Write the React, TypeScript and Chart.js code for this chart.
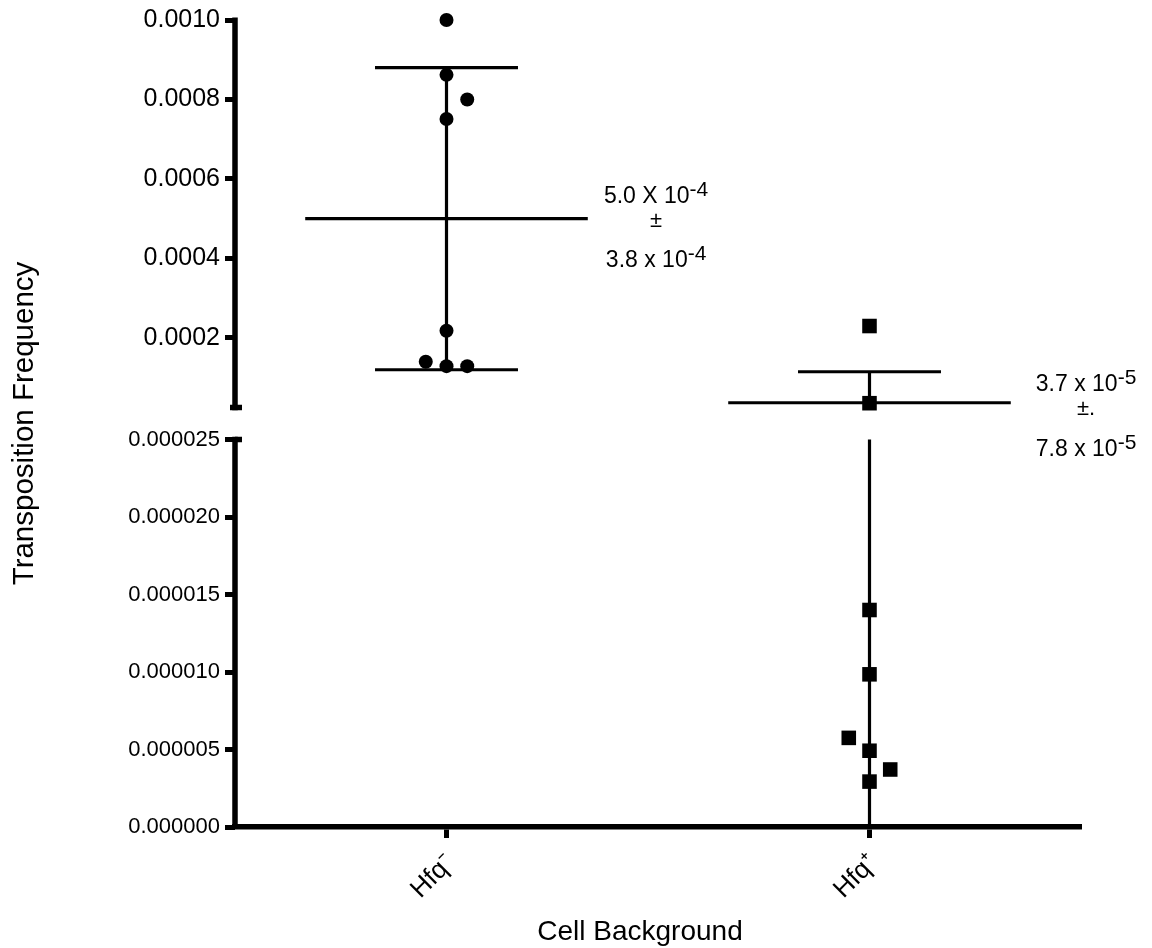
import React, { useEffect, useRef } from "react";
import { Chart, registerables } from "chart.js";

Chart.register(...registerables);

const FONT = "'Liberation Sans', Arial, Helvetica, sans-serif";

// ---------- data ----------
const categories = ["Hfq\u207B", "Hfq\u207A"];
const hfqMinusValues = [0.001, 0.000862, 0.0008, 0.000751, 0.000218, 0.00014, 0.000129, 0.000129];
const hfqMinusJitter = [0, 0, 0.049, 0, 0, -0.049, 0, 0.049];
const hfqPlusValues = [0.00023, 0.0000358, 0.000014, 0.00000985, 0.00000575, 0.00000492, 0.00000371, 0.00000293];
const hfqPlusJitter = [0, 0, 0, 0, -0.049, 0, 0.049, 0];
const groupMeans = [5.0e-4, 3.7e-5];
const groupSDs = [3.8e-4, 7.8e-5];
const meanTexts = [["5.0 X 10", "-4"], ["3.7 x 10", "-5"]];
const pmTexts = ["\u00B1", "\u00B1."];
const sdTexts = [["3.8 x 10", "-4"], ["7.8 x 10", "-5"]];
const topTicks = [0.0002, 0.0004, 0.0006, 0.0008, 0.001];
const bottomTicks = [0, 0.000005, 0.00001, 0.000015, 0.00002, 0.000025];
const AXIS_BREAK = 0.000025;
const TOP_MAX = 0.001;
const BOTTOM_MIN = 0;
const Y_TITLE = "Transposition Frequency";
const X_TITLE = "Cell Background";

// ---------- styling / layout ----------
const GAP_FRAC = 0.0413;
const MEAN_HALF = 0.334;
const CAP_HALF = 0.169;
const AXIS_W = 5.5;
const LINE_W = 3.2;
const ANNOT_DX = [0.4955, 0.512];
const ANNOT_DY = [0, 4.5];

const topMin = AXIS_BREAK - GAP_FRAC * (TOP_MAX - AXIS_BREAK);
const bottomMax = AXIS_BREAK + GAP_FRAC * (AXIS_BREAK - BOTTOM_MIN);

const axisOf = (v: number) => (v >= AXIS_BREAK ? "yTop" : "yBottom");

function splitPoints(values: number[], jitter: number[], cat: number) {
  const top: { x: number; y: number }[] = [];
  const bottom: { x: number; y: number }[] = [];
  values.forEach((v, i) => {
    const p = { x: cat + jitter[i], y: v };
    (v >= AXIS_BREAK ? top : bottom).push(p);
  });
  return { top, bottom };
}

function barSegments(cat: number, mean: number, sd: number) {
  const segs: { axis: string; pts: { x: number; y: number }[] }[] = [];
  segs.push({ axis: axisOf(mean), pts: [{ x: cat - MEAN_HALF, y: mean }, { x: cat + MEAN_HALF, y: mean }] });
  const hi = mean + sd;
  const lo = mean - sd;
  segs.push({ axis: axisOf(hi), pts: [{ x: cat - CAP_HALF, y: hi }, { x: cat + CAP_HALF, y: hi }] });
  if (lo >= BOTTOM_MIN) {
    segs.push({ axis: axisOf(lo), pts: [{ x: cat - CAP_HALF, y: lo }, { x: cat + CAP_HALF, y: lo }] });
  }
  const loC = Math.max(lo, BOTTOM_MIN);
  if (hi > AXIS_BREAK) {
    segs.push({ axis: "yTop", pts: [{ x: cat, y: Math.max(loC, AXIS_BREAK) }, { x: cat, y: hi }] });
  }
  if (loC < AXIS_BREAK) {
    segs.push({ axis: "yBottom", pts: [{ x: cat, y: loC }, { x: cat, y: Math.min(hi, AXIS_BREAK) }] });
  }
  return segs;
}

function buildDatasets() {
  const ds: any[] = [];
  const groups = [
    { values: hfqMinusValues, jitter: hfqMinusJitter, style: "circle", radius: 7 },
    { values: hfqPlusValues, jitter: hfqPlusJitter, style: "rect", radius: 10.3 },
  ];
  groups.forEach((g, gi) => {
    const cat = gi + 1;
    const { top, bottom } = splitPoints(g.values, g.jitter, cat);
    [
      { data: top, axis: "yTop" },
      { data: bottom, axis: "yBottom" },
    ].forEach((s) => {
      if (!s.data.length) return;
      ds.push({
        label: categories[gi],
        data: s.data,
        yAxisID: s.axis,
        xAxisID: "x",
        pointStyle: g.style,
        pointRadius: g.radius,
        pointBackgroundColor: "#000",
        pointBorderColor: "#000",
        pointBorderWidth: 0,
        showLine: false,
        clip: false,
      });
    });
  });
  groupMeans.forEach((m, gi) => {
    barSegments(gi + 1, m, groupSDs[gi]).forEach((seg) => {
      ds.push({
        label: "bar",
        data: seg.pts,
        yAxisID: seg.axis,
        xAxisID: "x",
        showLine: true,
        borderColor: "#000",
        borderWidth: LINE_W,
        borderCapStyle: "butt",
        pointRadius: 0,
        fill: false,
        clip: false,
      });
    });
  });
  return ds;
}

function drawSup(ctx: CanvasRenderingContext2D, main: string, sup: string, cx: number, baseline: number) {
  ctx.font = `23px ${FONT}`;
  const wm = ctx.measureText(main).width;
  ctx.font = `21px ${FONT}`;
  const ws = ctx.measureText(sup).width;
  const start = cx - (wm + ws) / 2;
  ctx.textAlign = "left";
  ctx.textBaseline = "alphabetic";
  ctx.font = `23px ${FONT}`;
  ctx.fillText(main, start, baseline);
  ctx.font = `21px ${FONT}`;
  ctx.fillText(sup, start + wm, baseline - 7);
}

const decorPlugin = {
  id: "decor",
  afterDraw(chart: any) {
    const ctx: CanvasRenderingContext2D = chart.ctx;
    const area = chart.chartArea;
    const yT = chart.scales.yTop;
    const yB = chart.scales.yBottom;
    const xs = chart.scales.x;
    ctx.save();
    ctx.strokeStyle = "#000";
    ctx.fillStyle = "#000";
    ctx.lineCap = "butt";
    ctx.lineWidth = AXIS_W;
    const ax = area.left;
    const line = (x1: number, y1: number, x2: number, y2: number) => {
      ctx.beginPath();
      ctx.moveTo(x1, y1);
      ctx.lineTo(x2, y2);
      ctx.stroke();
    };
    // broken y axis
    const tTop = yT.getPixelForValue(TOP_MAX);
    const tBreak = yT.getPixelForValue(AXIS_BREAK);
    line(ax, tTop - 2.5, ax, tBreak + 2.7);
    line(ax - 5, tBreak, ax + 7, tBreak);
    const bBreak = yB.getPixelForValue(AXIS_BREAK);
    const bZero = yB.getPixelForValue(BOTTOM_MIN);
    line(ax, bBreak - 2.7, ax, bZero);
    line(ax, bBreak, ax + 7, bBreak);

    // annotations
    groupMeans.forEach((m, gi) => {
      const scale = m >= AXIS_BREAK ? yT : yB;
      const cx = xs.getPixelForValue(gi + 1 + ANNOT_DX[gi]);
      const my = scale.getPixelForValue(m) + ANNOT_DY[gi];
      drawSup(ctx, meanTexts[gi][0], meanTexts[gi][1], cx, my - 16);
      ctx.font = `22px ${FONT}`;
      ctx.textAlign = "center";
      ctx.textBaseline = "alphabetic";
      ctx.fillText(pmTexts[gi], cx, my + 8);
      drawSup(ctx, sdTexts[gi][0], sdTexts[gi][1], cx, my + 48.5);
    });

    // axis titles
    ctx.font = `29.5px ${FONT}`;
    ctx.textAlign = "center";
    ctx.textBaseline = "alphabetic";
    ctx.save();
    ctx.translate(33, (area.top + area.bottom) / 2);
    ctx.rotate(-Math.PI / 2);
    ctx.fillText(Y_TITLE, 0, 0);
    ctx.restore();
    ctx.font = `28px ${FONT}`;
    ctx.fillText(X_TITLE, (area.left + area.right) / 2 - 18, 940);
    ctx.restore();
  },
};

export default function App() {
  const ref = useRef<HTMLCanvasElement>(null);
  useEffect(() => {
    if (!ref.current) return;
    Chart.defaults.font.family = FONT;
    const chart = new Chart(ref.current, {
      type: "scatter",
      data: { datasets: buildDatasets() },
      options: {
        responsive: false,
        animation: false,
        events: [],
        layout: { padding: { left: 35, right: 71, top: 20, bottom: 0 } },
        plugins: { legend: { display: false }, tooltip: { enabled: false } },
        scales: {
          x: {
            type: "linear",
            position: "bottom",
            min: 0.5,
            max: 2.5,
            afterBuildTicks: (s: any) => {
              s.ticks = categories.map((_, i) => ({ value: i + 1 }));
            },
            afterFit: (s: any) => {
              s.height = 121;
            },
            ticks: {
              callback: (v: any) => categories[Math.round(Number(v)) - 1] ?? "",
              minRotation: 45,
              maxRotation: 45,
              autoSkip: false,
              font: { family: FONT, size: 26 },
              color: "#000",
              padding: 10,
              labelOffset: 4,
            },
            grid: {
              display: true,
              drawOnChartArea: false,
              drawTicks: true,
              tickLength: 11,
              tickWidth: 5,
              tickColor: "#000",
              color: "#000",
            },
            border: { display: true, color: "#000", width: AXIS_W },
          },
          yTop: {
            type: "linear",
            position: "left",
            stack: "y",
            stackWeight: 1,
            weight: 1,
            min: topMin,
            max: TOP_MAX,
            afterBuildTicks: (s: any) => {
              s.ticks = topTicks.map((v) => ({ value: v }));
            },
            afterFit: (s: any) => {
              s.width = 200;
            },
            ticks: {
              callback: (v: any) => Number(v).toFixed(4),
              font: { family: FONT, size: 25 },
              color: "#000",
              padding: 5,
            },
            grid: {
              display: true,
              drawOnChartArea: false,
              drawTicks: true,
              tickLength: 10,
              tickWidth: 5,
              tickColor: "#000",
            },
            border: { display: false },
          },
          yBottom: {
            type: "linear",
            position: "left",
            stack: "y",
            stackWeight: 1,
            weight: 0,
            min: BOTTOM_MIN,
            max: bottomMax,
            afterBuildTicks: (s: any) => {
              s.ticks = bottomTicks.map((v) => ({ value: v }));
            },
            afterFit: (s: any) => {
              s.width = 200;
            },
            ticks: {
              callback: (v: any) => Number(v).toFixed(6),
              font: { family: FONT, size: 22 },
              color: "#000",
              padding: 5,
            },
            grid: {
              display: true,
              drawOnChartArea: false,
              drawTicks: true,
              tickLength: 10,
              tickWidth: 5,
              tickColor: "#000",
            },
            border: { display: false },
          },
        },
      } as any,
      plugins: [decorPlugin],
    });
    return () => chart.destroy();
  }, []);
  return (
    <div style={{ position: "absolute", left: 0, top: 0, width: 1152, height: 948, background: "#fff" }}>
      <canvas ref={ref} width={1152} height={948} style={{ display: "block", width: 1152, height: 948 }} />
    </div>
  );
}
